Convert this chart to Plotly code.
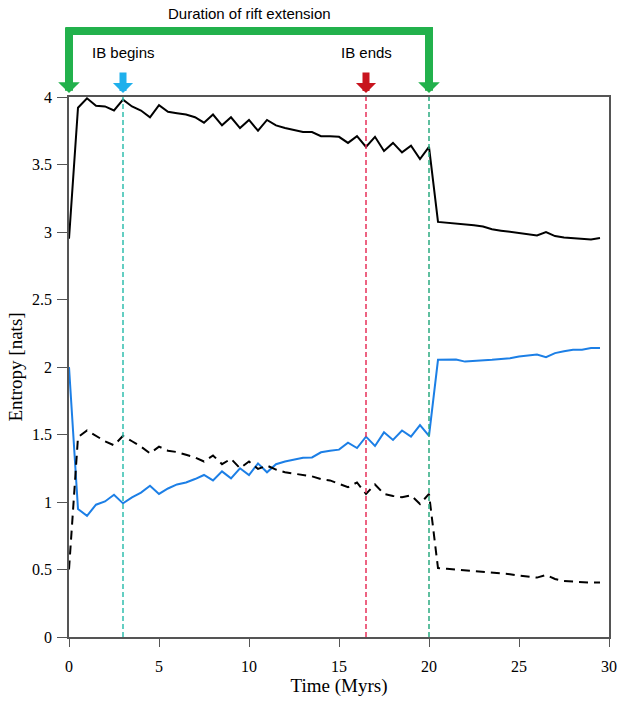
import plotly.graph_objects as go

# time steps (Myrs)
time_myrs = [
    0.0, 0.5, 1.0, 1.5, 2.0, 2.5, 3.0, 3.5, 4.0, 4.5,
    5.0, 5.5, 6.0, 6.5, 7.0, 7.5, 8.0, 8.5, 9.0, 9.5,
    10.0, 10.5, 11.0, 11.5, 12.0, 12.5, 13.0, 13.5, 14.0, 14.5,
    15.0, 15.5, 16.0, 16.5, 17.0, 17.5, 18.0, 18.5, 19.0, 19.5,
    20.0, 20.5, 21.0, 21.5, 22.0, 22.5, 23.0, 23.5, 24.0, 24.5,
    25.0, 25.5, 26.0, 26.5, 27.0, 27.5, 28.0, 28.5, 29.0, 29.5,
]

# black solid line
entropy_total = [
    2.95, 3.92, 3.99, 3.935, 3.93, 3.90, 3.98, 3.93, 3.90, 3.85,
    3.94, 3.89, 3.88, 3.87, 3.85, 3.81, 3.87, 3.79, 3.85, 3.77,
    3.83, 3.75, 3.83, 3.79, 3.77, 3.755, 3.74, 3.74, 3.71, 3.71,
    3.705, 3.66, 3.71, 3.63, 3.705, 3.60, 3.66, 3.59, 3.64, 3.54,
    3.63, 3.075, 3.07, 3.06, 3.06, 3.05, 3.04, 3.02, 3.01, 3.00,
    2.99, 2.98, 2.975, 3.00, 2.97, 2.96, 2.955, 2.955, 2.945, 2.955,
]

# blue line
entropy_blue = [
    2.0, 0.948, 0.898, 0.98, 1.004, 1.054, 0.99, 1.034, 1.07, 1.12,
    1.06, 1.10, 1.13, 1.145, 1.17, 1.20, 1.16, 1.227, 1.175, 1.25,
    1.20, 1.286, 1.22, 1.28, 1.30, 1.316, 1.328, 1.33, 1.368, 1.38,
    1.388, 1.44, 1.40, 1.484, 1.415, 1.516, 1.46, 1.53, 1.484, 1.57,
    1.49, 2.053, 2.056, 2.056, 2.04, 2.043, 2.048, 2.053, 2.06, 2.065,
    2.078, 2.085, 2.093, 2.073, 2.103, 2.117, 2.128, 2.128, 2.14, 2.14,
]

# black dashed line
entropy_dashed = [
    0.5, 1.48, 1.53, 1.49, 1.45, 1.42, 1.49, 1.45, 1.41, 1.36,
    1.41, 1.38, 1.37, 1.35, 1.33, 1.30, 1.345, 1.28, 1.32, 1.25,
    1.30, 1.245, 1.27, 1.24, 1.22, 1.21, 1.20, 1.19, 1.17, 1.16,
    1.135, 1.11, 1.145, 1.06, 1.13, 1.06, 1.045, 1.035, 1.05, 0.985,
    1.06, 0.51, 0.505, 0.50, 0.495, 0.49, 0.485, 0.48, 0.475, 0.465,
    0.455, 0.45, 0.44, 0.46, 0.43, 0.415, 0.41, 0.405, 0.403, 0.403,
]

# event times (Myrs)
rift_start = 0
rift_end = 20
ib_begin = 3
ib_end = 16.5

GREEN = "#22b14c"
SERIF = "Liberation Serif"
SANS = "Liberation Sans"

fig = go.Figure()

fig.add_trace(go.Scatter(x=time_myrs, y=entropy_total, mode="lines",
                         line=dict(color="black", width=2)))
fig.add_trace(go.Scatter(x=time_myrs, y=entropy_blue, mode="lines",
                         line=dict(color="#1c7fe6", width=2)))
fig.add_trace(go.Scatter(x=time_myrs, y=entropy_dashed, mode="lines",
                         line=dict(color="black", width=2, dash="9px,6px")))

# vertical event lines
for t, col in [(ib_begin, "#30bfae"), (ib_end, "#e8305a"), (rift_end, "#2aaa80")]:
    fig.add_shape(type="line", xref="x", yref="y", x0=t, x1=t, y0=0, y1=4,
                  line=dict(color=col, width=1.5, dash="5px,3px"))

arrow_tip = 1.0074  # just above frame top (paper coords)
bar_y = 1.1223

annotations = []
# green bracket: horizontal bar
annotations.append(dict(
    x=rift_end + 0.22, y=bar_y, xref="x", yref="paper",
    ax=rift_start - 0.22, ay=0, axref="x", ayref="pixel",
    text="", showarrow=True, arrowhead=0, arrowwidth=8, arrowcolor=GREEN,
    borderpad=0, standoff=0, startstandoff=0,
))
# green bracket legs with arrowheads
for t in (rift_start, rift_end):
    annotations.append(dict(
        x=t, y=arrow_tip, xref="x", yref="paper",
        ax=0, ay=-66, text="", showarrow=True, arrowhead=1, arrowsize=0.45,
        arrowwidth=8, arrowcolor=GREEN, borderpad=0, standoff=0, startstandoff=0,
    ))
# IB begin / end arrows
for t, col in [(ib_begin, "#1fb0ec"), (ib_end, "#c8141e")]:
    annotations.append(dict(
        x=t, y=arrow_tip, xref="x", yref="paper",
        ax=0, ay=-21, text="", showarrow=True, arrowhead=1, arrowsize=0.48,
        arrowwidth=7, arrowcolor=col, borderpad=0, standoff=0, startstandoff=0,
    ))

label_font = dict(family=SANS, size=15, color="black")
annotations += [
    dict(x=(rift_start + rift_end) / 2, y=1.1538, xref="x", yref="paper",
         text="Duration of rift extension", showarrow=False,
         xanchor="center", yanchor="middle", font=label_font),
    dict(x=ib_begin, y=1.0815, xref="x", yref="paper", text="IB begins",
         showarrow=False, xanchor="center", yanchor="middle", font=label_font),
    dict(x=ib_end, y=1.0815, xref="x", yref="paper", text="IB ends",
         showarrow=False, xanchor="center", yanchor="middle", font=label_font),
]

axis_common = dict(
    showgrid=False, zeroline=False, showline=True, linecolor="#555555",
    linewidth=1.5, mirror=True, ticks="outside", tickwidth=1.2,
    tickcolor="#555555", automargin=False,
    tickfont=dict(family=SERIF, size=16, color="black"),
)

fig.update_layout(
    width=624, height=704,
    margin=dict(l=69, r=15, t=97, b=67),
    plot_bgcolor="white", paper_bgcolor="white",
    showlegend=False,
    annotations=annotations,
    xaxis=dict(range=[0, 30], tickvals=[0, 5, 10, 15, 20, 25, 30],
               ticklen=8, ticklabelstandoff=6,
               title=dict(text="Time (Myrs)", font=dict(family=SERIF, size=19, color="black"),
                          standoff=2),
               **axis_common),
    yaxis=dict(range=[0, 4], tickvals=[0, 0.5, 1, 1.5, 2, 2.5, 3, 3.5, 4],
               ticklen=10, ticklabelstandoff=2,
               title=dict(text="Entropy [nats]", font=dict(family=SERIF, size=19, color="black"),
                          standoff=4),
               **axis_common),
)

fig.write_html(
    "out.html",
    config={"displayModeBar": False},
    post_script="document.body.style.margin='0';document.body.style.overflow='hidden';",
)
